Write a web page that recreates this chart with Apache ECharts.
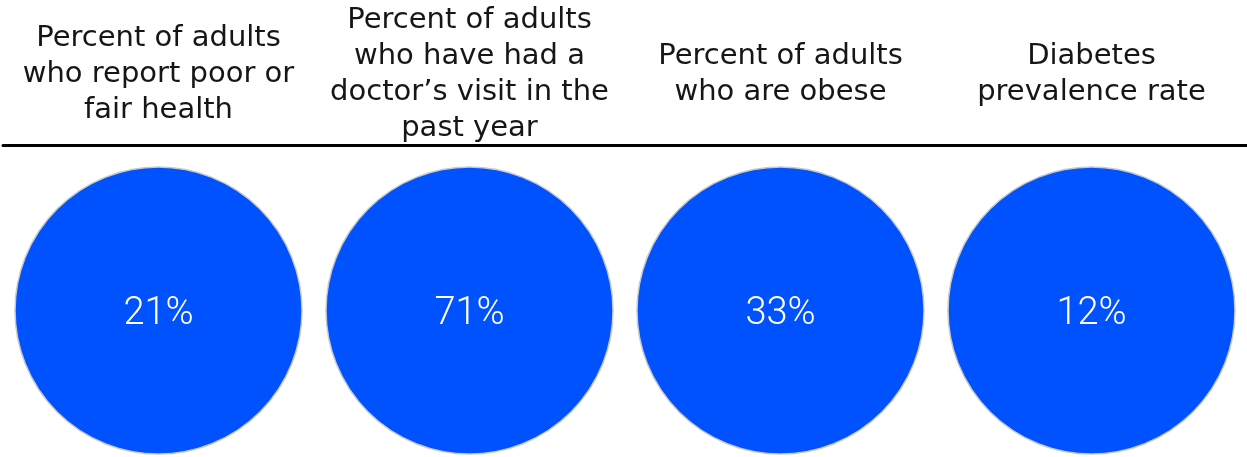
<!DOCTYPE html>
<html>
<head>
<meta charset="utf-8">
<script src="https://cdn.jsdelivr.net/npm/echarts@6/dist/echarts.min.js"></script>
<style>
  html, body { margin: 0; padding: 0; background: #fff; }
  #chart { width: 1247px; height: 457px; }
</style>
</head>
<body>
<div id="chart"></div>
<script>
// column headings (line breaks as in the original)
const categories = [
    "Percent of adults\nwho report poor or\nfair health",
    "Percent of adults\nwho have had a\ndoctor\u2019s visit in the\npast year",
    "Percent of adults\nwho are obese",
    "Diabetes\nprevalence rate"
];
const percentValues = [21, 71, 33, 12];
// every bubble sits on the same row
const rowLevel = [0, 0, 0, 0];

const chart = echarts.init(document.getElementById("chart"));

chart.setOption({
    backgroundColor: "#ffffff",
    animation: false,
    grid: { left: 3, right: 0, top: 145, bottom: 0 },
    xAxis: {
        type: "category",
        position: "top",
        data: categories,
        boundaryGap: true,
        axisLine: { show: true, onZero: false, lineStyle: { color: "#000", width: 3 } },
        axisTick: { show: false },
        splitLine: { show: false },
        axisLabel: {
            interval: 0,
            margin: 71,
            verticalAlign: "middle",
            align: "center",
            color: "#161616",
            fontFamily: "DejaVu Sans",
            fontSize: 29,
            lineHeight: 36
        }
    },
    // asymmetric range pushes the row a little below the middle of the grid
    yAxis: { type: "value", min: -1, max: 1.13, show: false },
    series: [{
        type: "scatter",
        symbol: "circle",
        symbolSize: 287,
        data: rowLevel.map((y, i) => [i, y]),
        itemStyle: { color: "#0052ff", borderColor: "#c9c9c9", borderWidth: 1.5, opacity: 1 },
        label: {
            show: true,
            position: "inside",
            offset: [0, 4],
            formatter: p => percentValues[p.dataIndex] + "%",
            color: "#fff",
            fontFamily: "Roboto",
            fontWeight: 300,
            fontSize: 38
        },
        emphasis: { disabled: true }
    }]
});
</script>
</body>
</html>
